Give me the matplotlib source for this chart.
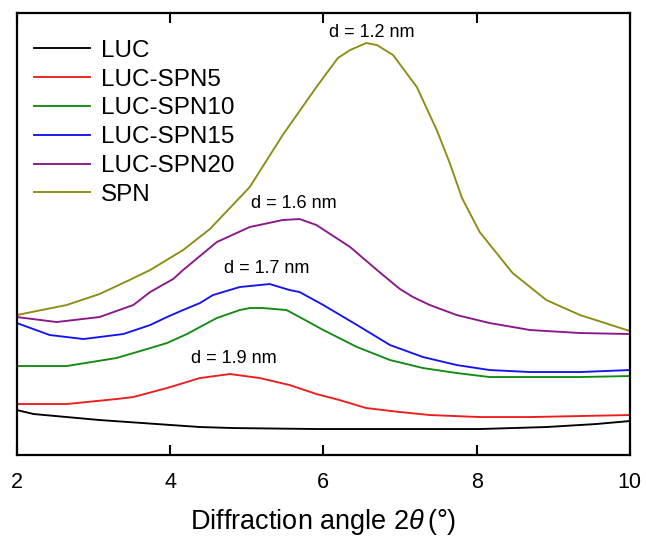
import matplotlib
matplotlib.use('Agg')
import matplotlib.pyplot as plt

# XRD patterns, intensity in arbitrary units
x_luc = [2.0, 2.22, 3.08, 4.39, 4.82, 5.91, 6.74, 8.04, 8.91, 9.56, 10.0]
y_luc = [45, 41, 35, 28, 27, 26, 26, 26, 28, 31, 34]

x_spn5 = [2.0, 2.65, 3.3, 3.52, 3.96, 4.39, 4.78, 5.17, 5.56, 5.91, 6.21, 6.56,
          7.0, 7.39, 8.04, 8.7, 10.0]
y_spn5 = [51, 51, 56, 58, 67, 77, 81, 77, 70, 61, 55, 47, 43, 40, 38, 38, 40]

x_spn10 = [2.0, 2.65, 3.3, 3.7, 3.96, 4.22, 4.39, 4.61, 4.91, 5.04, 5.21, 5.52,
           5.69, 6.0, 6.44, 6.87, 7.3, 7.74, 8.17, 8.7, 9.35, 10.0]
y_spn10 = [89, 89, 97, 106, 112, 121, 128, 137, 145, 147, 147, 145,
           138, 125, 108, 95, 87, 82, 78, 78, 78, 79]

x_spn15 = [2.0, 2.43, 2.87, 3.39, 3.74, 3.96, 4.17, 4.39, 4.56, 4.91, 5.04, 5.3,
           5.56, 5.69, 6.0, 6.44, 6.87, 7.3, 7.74, 8.17, 8.7, 9.35, 10.0]
y_spn15 = [132, 120, 116, 121, 130, 138, 145, 152, 160, 168, 169, 171,
           165, 163, 150, 130, 110, 98, 90, 85, 83, 83, 85]

x_spn20 = [2.0, 2.52, 3.08, 3.52, 3.74, 4.04, 4.17, 4.61, 5.04, 5.47, 5.69, 5.91,
           6.35, 6.7, 7.0, 7.17, 7.39, 7.74, 8.17, 8.7, 9.35, 10.0]
y_spn20 = [138, 133, 138, 150, 163, 176, 185, 213, 228, 235, 236, 230,
           208, 185, 166, 158, 150, 140, 132, 125, 122, 121]

x_spn = [2.0, 2.65, 3.08, 3.47, 3.74, 4.17, 4.52, 5.04, 5.47, 5.91, 6.19, 6.35,
         6.56, 6.7, 6.91, 7.22, 7.48, 7.65, 7.81, 8.04, 8.47, 8.91, 9.35, 10.0]
y_spn = [140, 150, 161, 175, 185, 205, 226, 268, 320, 368, 397, 405,
         412, 410, 400, 368, 325, 292, 257, 223, 182, 155, 140, 124]

labels = ['LUC', 'LUC-SPN5', 'LUC-SPN10', 'LUC-SPN15', 'LUC-SPN20', 'SPN']
colors = ['#000000', '#ee1c1c', '#138a13', '#1414f0', '#8a168a', '#8c8c14']

# d-spacing annotations (x, y, text)
ann_x = [6.63, 5.62, 5.26, 4.83]
ann_y = [423, 252, 187, 97]
ann_txt = ['d = 1.2 nm', 'd = 1.6 nm', 'd = 1.7 nm', 'd = 1.9 nm']

plt.rcParams['font.family'] = ['Liberation Sans', 'DejaVu Sans']
plt.rcParams['mathtext.fontset'] = 'custom'
plt.rcParams['mathtext.it'] = 'Liberation Sans:italic'
plt.rcParams['mathtext.rm'] = 'Liberation Sans'

fig = plt.figure(figsize=(6.46, 5.43), dpi=100)
ax = fig.add_axes([0.026, 0.162, 0.949, 0.814])

series = [(x_luc, y_luc), (x_spn5, y_spn5), (x_spn10, y_spn10),
          (x_spn15, y_spn15), (x_spn20, y_spn20), (x_spn, y_spn)]
for (xs, ys), lab, c in zip(series, labels, colors):
    ax.plot(xs, ys, color=c, lw=1.35, label=lab)

for x, y, t in zip(ann_x, ann_y, ann_txt):
    ax.text(x, y, t, fontsize=13, ha='center', va='center')

ax.set_xlim(2, 10)
ax.set_ylim(0, 442)
ax.set_xticks([2, 4, 6, 8, 10])
ax.set_yticks([])
ax.tick_params(axis='x', direction='in', top=True, length=7, width=1.5,
               labelsize=15.5, pad=12)
for s in ax.spines.values():
    s.set_linewidth(1.6)
ax.set_xlabel(r'Diffraction angle 2$\theta\,$(°)', fontsize=19.5, labelpad=10)

ax.legend(loc='upper left', frameon=False, fontsize=17.5, handlelength=2.3,
          handletextpad=0.45, labelspacing=0.28, borderaxespad=0.3,
          bbox_to_anchor=(0.0, 0.978))

fig.savefig('out.png', dpi=100)
